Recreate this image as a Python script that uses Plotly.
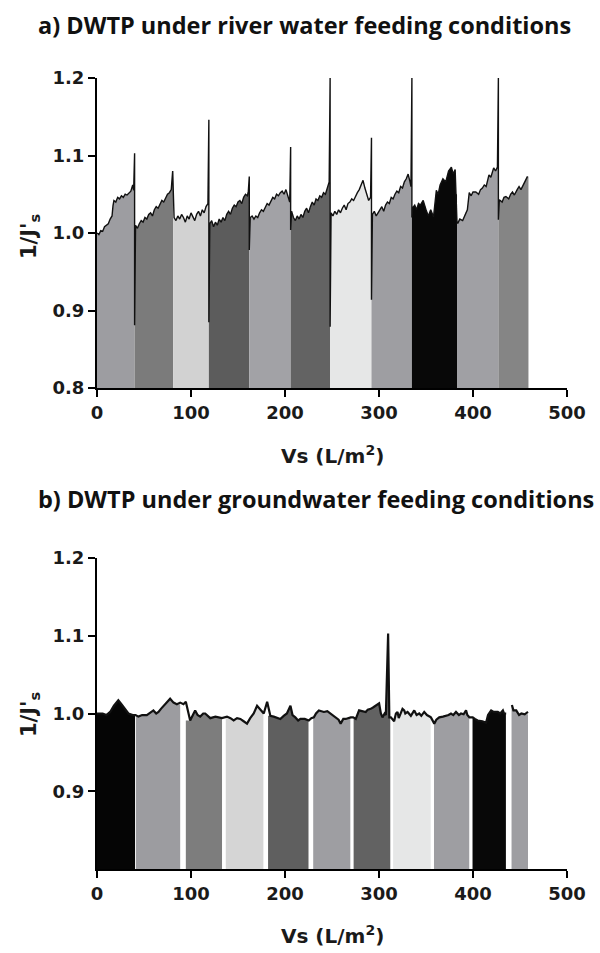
import plotly.graph_objects as go

# ---------------- Panel a) river water ----------------
a_x = [0, 2, 4, 6, 8, 10, 12, 14, 16, 17, 18, 20, 22, 24, 26, 28, 30, 32, 34, 36, 38, 39, 40, 40,
       41, 43, 45, 47, 49, 51, 53, 55, 57, 59, 61, 63, 65, 67, 69, 71, 73, 75, 77, 79, 80.5, 81,
       82, 84, 86, 88, 90, 92, 94, 96, 98, 100, 102, 104, 106, 108, 110, 112, 114, 116, 118, 119, 119,
       120, 122, 124, 126, 128, 130, 132, 134, 136, 138, 140, 142, 144, 146, 148, 150, 152, 154, 156, 158, 160, 161, 162, 162,
       163, 165, 167, 169, 171, 173, 175, 177, 179, 181, 183, 185, 187, 189, 191, 193, 195, 197, 199, 201, 203, 205, 206, 206,
       207, 209, 211, 213, 215, 217, 219, 221, 223, 225, 227, 229, 231, 233, 235, 237, 239, 241, 243, 245, 247, 248, 248,
       249, 251, 253, 255, 257, 259, 261, 263, 265, 267, 269, 271, 273, 275, 277, 279, 281, 283, 285, 287, 289, 291, 292, 292,
       293, 295, 297, 299, 301, 303, 305, 307, 309, 311, 313, 315, 317, 319, 321, 323, 325, 327, 329, 331, 333, 334, 335, 335,
       336, 338, 340, 342, 344, 347, 350, 352.5, 355, 358, 361, 363, 365, 368, 371, 374, 377, 379, 381, 382, 383,
       384, 386, 389, 392, 394, 396, 398, 400, 403, 406, 408, 410, 412, 414, 417, 419, 422, 424, 426, 427, 427,
       428, 431, 433, 435, 438, 440, 442, 444, 447, 449, 451, 454, 456, 458]
a_y = [1.000, 0.998, 1.003, 1.002, 1.008, 1.010, 1.012, 1.018, 1.022, 1.035, 1.042, 1.040, 1.046, 1.044, 1.048, 1.046, 1.050, 1.049, 1.052, 1.054, 1.062, 1.055, 1.103, 0.881,
       1.010, 1.006, 1.012, 1.016, 1.014, 1.020, 1.018, 1.024, 1.026, 1.022, 1.030, 1.034, 1.032, 1.038, 1.042, 1.040, 1.046, 1.050, 1.052, 1.056, 1.080, 1.040,
       1.020, 1.016, 1.022, 1.018, 1.024, 1.020, 1.014, 1.022, 1.018, 1.026, 1.020, 1.016, 1.024, 1.028, 1.022, 1.030, 1.026, 1.034, 1.038, 1.146, 0.885,
       1.012, 1.016, 1.008, 1.014, 1.010, 1.018, 1.014, 1.020, 1.016, 1.024, 1.028, 1.024, 1.032, 1.036, 1.034, 1.040, 1.042, 1.038, 1.046, 1.050, 1.048, 1.054, 1.073, 0.978,
       1.020, 1.022, 1.018, 1.022, 1.020, 1.026, 1.030, 1.028, 1.034, 1.038, 1.036, 1.042, 1.046, 1.044, 1.050, 1.048, 1.052, 1.054, 1.050, 1.056, 1.046, 1.040, 1.111, 1.004,
       1.028, 1.020, 1.016, 1.022, 1.018, 1.024, 1.020, 1.028, 1.032, 1.026, 1.034, 1.040, 1.036, 1.044, 1.042, 1.048, 1.046, 1.052, 1.050, 1.058, 1.066, 1.200, 0.879,
       1.026, 1.022, 1.028, 1.024, 1.030, 1.026, 1.032, 1.036, 1.030, 1.038, 1.040, 1.044, 1.042, 1.048, 1.052, 1.056, 1.062, 1.068, 1.058, 1.048, 1.042, 1.046, 1.123, 0.914,
       1.024, 1.028, 1.022, 1.026, 1.030, 1.034, 1.028, 1.036, 1.040, 1.038, 1.046, 1.044, 1.050, 1.054, 1.052, 1.060, 1.058, 1.066, 1.070, 1.076, 1.066, 1.060, 1.200, 1.020,
       1.033, 1.036, 1.030, 1.038, 1.036, 1.042, 1.030, 1.022, 1.030, 1.021, 1.055, 1.050, 1.062, 1.070, 1.066, 1.080, 1.085, 1.076, 1.082, 1.050, 1.013,
       1.013, 1.018, 1.016, 1.026, 1.030, 1.052, 1.048, 1.053, 1.053, 1.050, 1.056, 1.058, 1.062, 1.060, 1.075, 1.072, 1.084, 1.080, 1.085, 1.200, 1.017,
       1.043, 1.040, 1.046, 1.047, 1.044, 1.050, 1.053, 1.049, 1.056, 1.060, 1.056, 1.064, 1.068, 1.073]
a_seg_start = [0, 40, 81, 119, 162, 206, 248, 292, 335, 383, 427]
a_seg_end = [40, 81, 119, 162, 206, 248, 292, 335, 383, 427, 459]
a_seg_colors = ["#9d9da1", "#7b7b7b", "#d2d2d2", "#5c5c5c", "#a2a2a6", "#636363",
                "#e6e7e7", "#9e9ea2", "#080808", "#a0a0a4", "#858585"]

# ---------------- Panel b) groundwater ----------------
b_x = [0, 6, 10, 14, 18, 22.7, 26, 30, 33.4, 38, 41, 44, 48, 53, 57, 60, 63, 65.4, 68, 70.7, 74.3, 77.8, 81.4, 85, 88.5,
       92, 94.5, 99.1, 102, 104.4, 107, 109.8, 113, 115.1, 120.5, 126, 132.9, 135, 138.3, 142, 145.4, 149, 152.5, 156,
       159.6, 163, 166.7, 170.3, 174, 177.4, 181, 184.4, 188, 191.5, 195, 198.6, 202, 205.8, 208, 211, 214, 216.4, 221,
       225.3, 228, 230.7, 233, 236, 239, 241.4, 245, 248.5, 251, 253.9, 257, 259.2, 262, 264.6, 267, 269.9, 272.5, 275.3,
       278.8, 282, 285.9, 288, 291.2, 294, 297, 300.1, 302, 303.7, 306, 307.3, 309.7, 311, 312.6, 315, 316.1, 318, 319.7,
       321, 323.2, 325, 326.8, 328, 330.4, 333.9, 337.5, 340, 342.8, 345, 348.1, 351, 355.2, 358.8, 361, 364.1, 368,
       371.2, 374, 376.6, 379, 381.9, 385, 387.2, 390, 392.6, 394, 396.2, 399.7, 402, 405, 410, 413.9, 416, 419.3, 422,
       426.4, 429, 431.8, 433, 435.3, None, 441.4, 443, 446, 449, 451.4, 455, 458.5]
b_y = [1.000, 1.000, 0.998, 1.002, 1.010, 1.017, 1.012, 1.006, 1.000, 0.998, 0.998, 0.996, 0.998, 0.998, 1.002, 1.004,
       1.000, 1.002, 1.006, 1.010, 1.015, 1.019, 1.014, 1.012, 1.014,
       1.012, 1.015, 0.991, 0.998, 1.004, 0.998, 0.996, 1.000, 1.000, 0.994, 0.996, 0.994, 0.995, 0.996, 0.994, 0.991,
       0.994, 0.993, 0.990,
       0.987, 0.994, 1.000, 1.010, 1.004, 1.000, 1.015, 0.997, 0.996, 0.995, 0.993, 0.997, 1.000, 1.010, 0.998, 0.995,
       0.991, 0.993, 0.993,
       0.991, 0.994, 0.995, 1.000, 1.004, 1.003, 1.002, 1.003, 1.000, 0.997, 0.995, 0.992, 0.987, 0.993, 0.993, 0.994,
       0.995, 0.995, 0.993,
       1.004, 1.003, 1.002, 1.005, 1.006, 1.008, 1.010, 1.013, 1.000, 0.995, 1.000, 0.998, 1.103, 0.995, 0.995, 0.991,
       0.990, 1.000, 1.002,
       0.994, 1.000, 1.006, 1.004, 1.000, 1.002, 0.997, 1.004, 0.998, 1.000, 0.997, 1.002, 0.998, 0.995, 0.987, 0.992,
       0.995, 0.996,
       0.997, 0.998, 1.000, 0.998, 1.002, 0.998, 1.000, 0.999, 1.004, 0.998, 0.995, 0.995, 0.993, 0.991, 0.990, 0.988,
       0.998, 1.004, 1.002,
       1.002, 1.000, 1.004, 1.000, 1.000, None, 1.011, 1.004, 1.004, 0.998, 1.000, 0.999, 1.002]
b_seg_start = [0, 41.5, 94.5, 137, 182, 230, 273, 315, 358.5, 399.5, 441]
b_seg_end = [40.5, 88.5, 133, 177, 225, 269.5, 312, 355, 396, 435, 458.5]
b_seg_colors = ["#050505", "#9c9ca0", "#7d7d7d", "#d5d5d5", "#5f5f5f", "#9e9ea2",
                "#626262", "#e6e7e7", "#9e9ea2", "#080808", "#9e9ea2"]

x_ticks = [0, 100, 200, 300, 400, 500]
a_y_ticks = [0.8, 0.9, 1.0, 1.1, 1.2]
b_y_ticks = [0.9, 1.0, 1.1, 1.2]

W, H = 600, 953


def seg_fill(xs, ys, s, e):
    pts = [(x, y) for x, y in zip(xs, ys) if x is not None and s < x < e]
    if not pts:
        return [], []
    fx = [s] + [p[0] for p in pts] + [e]
    fy = [pts[0][1]] + [p[1] for p in pts] + [pts[-1][1]]
    return fx, fy


fig = go.Figure()

for xs, ys, starts, ends, cols, xa, ya, lw in [
    (a_x, a_y, a_seg_start, a_seg_end, a_seg_colors, "x", "y", 1.4),
    (b_x, b_y, b_seg_start, b_seg_end, b_seg_colors, "x2", "y2", 2.2),
]:
    for s, e, c in zip(starts, ends, cols):
        fx, fy = seg_fill(xs, ys, s, e)
        fig.add_trace(go.Scatter(x=fx, y=fy, mode="lines", line=dict(width=0, color=c),
                                 fill="tozeroy", fillcolor=c, xaxis=xa, yaxis=ya,
                                 showlegend=False, hoverinfo="skip"))
    fig.add_trace(go.Scatter(x=xs, y=ys, mode="lines", line=dict(color="#111111", width=lw),
                             xaxis=xa, yaxis=ya, showlegend=False, connectgaps=False))

tickfont = dict(family="DejaVu Sans", size=18, color="#1a1a1a", weight="bold")
xdom = [97 / W, 567 / W]


def ydom(top, bottom):
    return [1 - bottom / H, 1 - top / H]


common_x = dict(range=[0, 500], tickvals=x_ticks, showline=True, linecolor="black", linewidth=2,
                ticks="outside", ticklen=7, tickwidth=2, tickcolor="black", tickfont=tickfont,
                showgrid=False, zeroline=False, domain=xdom, fixedrange=True, automargin=False)
common_y = dict(range=[0.8, 1.2], showline=True, linecolor="black", linewidth=2,
                ticks="outside", ticklen=7, tickwidth=2, tickcolor="black", tickfont=tickfont,
                tickformat=".1f", showgrid=False, zeroline=False, fixedrange=True, automargin=False)

fig.update_layout(
    width=W, height=H, margin=dict(l=0, r=0, t=0, b=0, autoexpand=False),
    paper_bgcolor="white", plot_bgcolor="white",
    xaxis=dict(common_x, anchor="y"),
    yaxis=dict(common_y, anchor="x", tickvals=a_y_ticks, domain=ydom(78, 388)),
    xaxis2=dict(common_x, anchor="y2"),
    yaxis2=dict(common_y, anchor="x2", tickvals=b_y_ticks, domain=ydom(558, 869)),
)

title_font = dict(family="Open Sans", size=23.5, color="#111111", weight="bold")
axis_title_font = dict(family="DejaVu Sans", size=20, color="#1a1a1a", weight="bold")
ytitle_font = dict(family="DejaVu Sans", size=21, color="#1a1a1a", weight="bold")


def ann(text, px, py, font, angle=0, xanchor="center"):
    fig.add_annotation(text=text, x=px / W, y=1 - py / H, xref="paper", yref="paper",
                       showarrow=False, font=font, textangle=angle, xanchor=xanchor, yanchor="middle")


ann("a) DWTP under river water feeding conditions", 36, 25, title_font, xanchor="left")
ann("b) DWTP under groundwater feeding conditions", 36, 499, title_font, xanchor="left")
ann("Vs (L/m<sup>2</sup>)", 332, 455, axis_title_font)
ann("Vs (L/m<sup>2</sup>)", 332, 935, axis_title_font)
ann("1/J'<sub>s</sub>", 30, 236, ytitle_font, -90)
ann("1/J'<sub>s</sub>", 30, 714, ytitle_font, -90)

fig.write_html("out.html", config={"displayModeBar": False},
               post_script="document.body.style.margin='0';document.body.style.overflow='hidden';")
